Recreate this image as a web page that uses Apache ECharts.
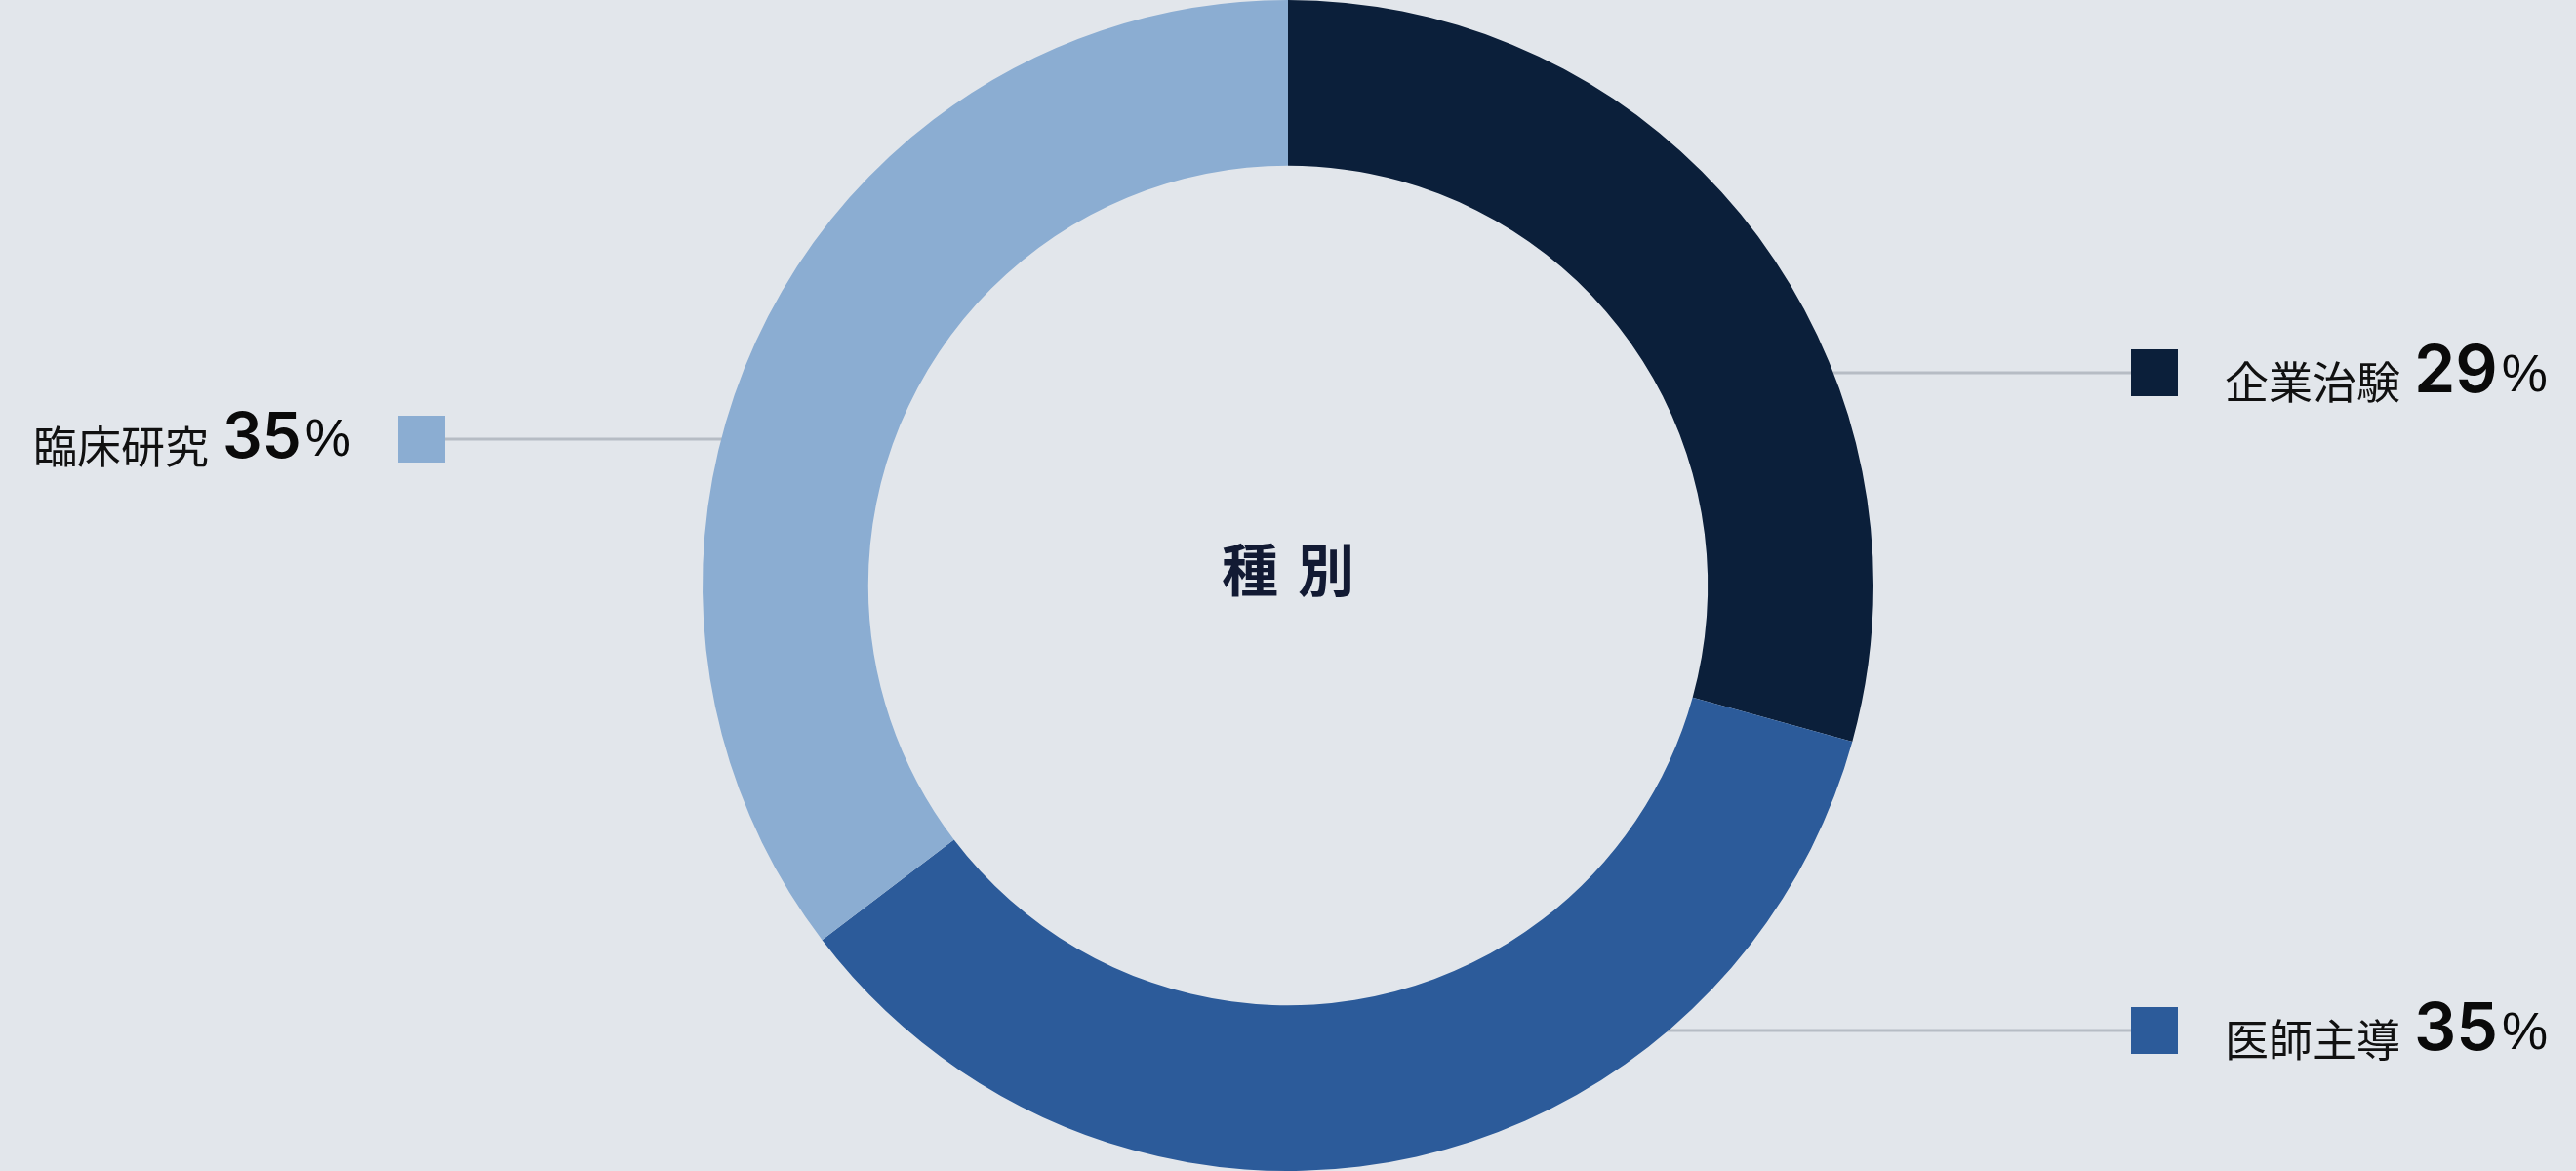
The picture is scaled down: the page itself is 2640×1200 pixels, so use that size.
<!DOCTYPE html>
<html>
<head>
<meta charset="utf-8">
<script src="https://cdn.jsdelivr.net/npm/echarts@6/dist/echarts.min.js"></script>
<style>
html,body{margin:0;padding:0;background:#e2e6eb;}
#main{width:2640px;height:1200px;}
</style>
</head>
<body>
<div id="main"></div>
<script>
// ---- data ----
const categories = ['企業治験', '医師主導', '臨床研究'];
const values = [29, 35, 35];
const centerTitle = ['種', '別'];

// ---- styles / layout (kept separate from data) ----
const colors = ['#0b1f3a', '#2c5b9a', '#8badd2'];
const labelPlacement = [
  { side: 'right', dy: -218, lineFrom: 'inner' },
  { side: 'right', dy: 456, lineFrom: 'outer' },
  { side: 'left', dy: -150, lineFrom: 'outer' }
];
const squareOffset = 864;
const innerRatio = 0.717;

const chart = echarts.init(document.getElementById('main'), null, { renderer: 'canvas' });

const cjk = '"Noto Sans CJK JP", "Noto Sans", sans-serif';
const num = 'Inter, "Liberation Sans", Arial, sans-serif';
const pctFont = '"Liberation Sans", Arial, sans-serif';

const rich = {
  name: { fontFamily: cjk, fontSize: 45, color: '#111111', fontWeight: 'normal', verticalAlign: 'bottom', padding: [0, 0, 2, 0] },
  valL: { fontFamily: num, fontSize: 64, color: '#0a0a0a', fontWeight: 600, verticalAlign: 'bottom' },
  valR: { fontFamily: num, fontSize: 68, color: '#0a0a0a', fontWeight: 600, verticalAlign: 'bottom' },
  pct: { fontFamily: pctFont, fontSize: 53, color: '#0a0a0a', fontWeight: 'normal', verticalAlign: 'bottom', padding: [0, 0, 3, 4] },
  sp: { width: 14 },
  gap: { width: 48 }
};
colors.forEach((c, i) => {
  rich['sq' + i] = { width: 48, height: 48, backgroundColor: c, verticalAlign: 'middle' };
});

const seriesData = categories.map((name, i) => ({
  name: name,
  value: values[i],
  itemStyle: { color: colors[i] }
}));

chart.setOption({
  backgroundColor: '#e2e6eb',
  animation: false,
  title: {
    text: '{a|' + centerTitle[0] + '}{b|' + centerTitle[1] + '}',
    left: 'center',
    top: 555,
    padding: 0,
    textStyle: {
      rich: {
        a: { fontFamily: cjk, fontSize: 58, fontWeight: 'bold', color: '#121a33' },
        b: { fontFamily: cjk, fontSize: 58, fontWeight: 'bold', color: '#121a33', padding: [0, 0, 0, 20] }
      }
    }
  },
  series: [{
    type: 'pie',
    center: ['50%', '50%'],
    radius: [(innerRatio * 100) + '%', '100%'],
    startAngle: 90,
    clockwise: true,
    silent: true,
    data: seriesData,
    label: {
      show: true,
      position: 'outside',
      formatter: function (p) {
        const i = p.dataIndex;
        const side = labelPlacement[i].side;
        const v = side === 'right' ? 'valR' : 'valL';
        const txt = '{name|' + p.name + '}{sp|}{' + v + '|' + p.value + '}{pct|%}';
        return side === 'right' ? '{sq' + i + '|}{gap|}' + txt : txt + '{gap|}{sq' + i + '|}';
      },
      rich: rich
    },
    labelLine: {
      show: true,
      lineStyle: { color: 'rgba(10,20,40,0.2)', width: 3 }
    },
    labelLayout: function (params) {
      const W = chart.getWidth(), H = chart.getHeight();
      const cx = W / 2, cy = H / 2, R = Math.min(W, H) / 2, Rin = R * innerRatio;
      const p = labelPlacement[params.dataIndex];
      const y = cy + p.dy;
      const r = p.lineFrom === 'inner' ? Rin + 7 : R - 3;
      const dx = Math.sqrt(Math.max(r * r - p.dy * p.dy, 0));
      if (p.side === 'right') {
        const sx = cx + dx, ex = cx + squareOffset;
        return { x: ex, y: y, align: 'left', verticalAlign: 'middle',
          labelLinePoints: [[sx, y], [(sx + ex) / 2, y], [ex, y]] };
      } else {
        const sx = cx - dx, ex = cx - squareOffset;
        return { x: ex, y: y, align: 'right', verticalAlign: 'middle',
          labelLinePoints: [[sx, y], [(sx + ex) / 2, y], [ex, y]] };
      }
    }
  }]
});
</script>
</body>
</html>
